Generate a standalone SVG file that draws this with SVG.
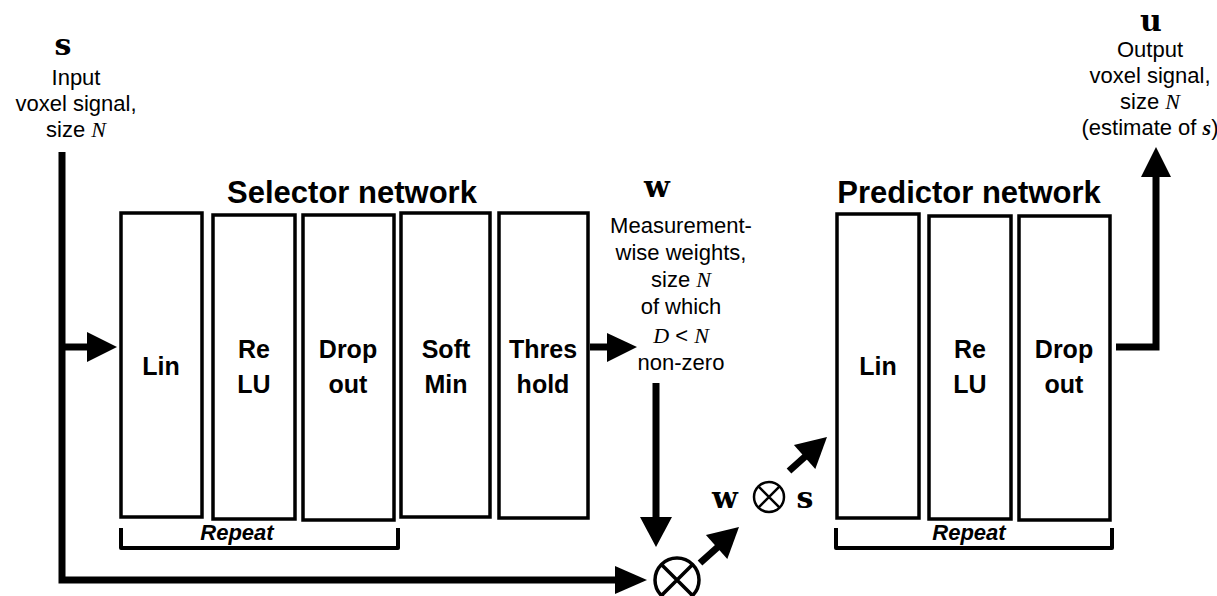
<svg xmlns="http://www.w3.org/2000/svg" width="1217" height="596" viewBox="0 0 1217 596">
<style>
.box{fill:#fff;stroke:#000;stroke-width:3.5}
.bt{font-family:"Liberation Sans",Arial,sans-serif;font-weight:bold;font-size:25px;text-anchor:middle;fill:#000}
.title{font-family:"Liberation Sans",Arial,sans-serif;font-weight:bold;font-size:31px;text-anchor:middle;fill:#000}
.lbl{font-family:"Liberation Sans",Arial,sans-serif;font-size:22px;text-anchor:middle;fill:#000}
.rep{font-family:"Liberation Sans",Arial,sans-serif;font-weight:bold;font-style:italic;font-size:22px;text-anchor:middle;fill:#000}
.var{font-family:"DejaVu Serif","Liberation Serif",serif;font-weight:bold;font-size:30px;text-anchor:middle;fill:#000}
.it{font-family:"Liberation Serif",serif;font-style:italic}
.bi{font-family:"Liberation Serif",serif;font-style:italic;font-weight:bold}
.line{fill:none;stroke:#000;stroke-width:7}
.thin{fill:none;stroke:#000;stroke-width:4;stroke-linejoin:round}
.head{fill:#000;stroke:none}
</style>

<g id="input-label">
<text class="var" x="63" y="55">s</text>
<text class="lbl" x="76" y="85">Input</text>
<text class="lbl" x="76" y="111">voxel signal,</text>
<text class="lbl" x="76" y="137">size <tspan class="it">N</tspan></text>
</g>

<g id="output-label">
<text class="var" x="1151" y="31">u</text>
<text class="lbl" x="1150" y="57">Output</text>
<text class="lbl" x="1150" y="83">voxel signal,</text>
<text class="lbl" x="1150" y="109">size <tspan class="it">N</tspan></text>
<text class="lbl" x="1150" y="135">(estimate of <tspan class="bi">s</tspan>)</text>
</g>

<g id="selector-title"><text class="title" x="352" y="203">Selector network</text></g>
<g id="predictor-title"><text class="title" x="969" y="203">Predictor network</text></g>

<g id="sel-lin"><rect class="box" x="121" y="213" width="81" height="304"/><text class="bt" x="161" y="375">Lin</text></g>
<g id="sel-relu"><rect class="box" x="213" y="215" width="82" height="304"/><text class="bt" x="254" y="358">Re</text><text class="bt" x="254" y="393">LU</text></g>
<g id="sel-dropout"><rect class="box" x="303" y="215" width="91" height="305"/><text class="bt" x="348" y="358">Drop</text><text class="bt" x="348" y="393">out</text></g>
<g id="sel-softmin"><rect class="box" x="401" y="213" width="89" height="304"/><text class="bt" x="446" y="358">Soft</text><text class="bt" x="446" y="393">Min</text></g>
<g id="sel-threshold"><rect class="box" x="499" y="213" width="89" height="305"/><text class="bt" x="543" y="358">Thres</text><text class="bt" x="543" y="393">hold</text></g>

<g id="sel-repeat">
<path class="thin" d="M121,528 V548 H398 V528"/>
<text class="rep" x="237" y="540">Repeat</text>
</g>

<g id="pred-lin"><rect class="box" x="837" y="214" width="82" height="304"/><text class="bt" x="878" y="375">Lin</text></g>
<g id="pred-relu"><rect class="box" x="929" y="216" width="82" height="303"/><text class="bt" x="970" y="358">Re</text><text class="bt" x="970" y="393">LU</text></g>
<g id="pred-dropout"><rect class="box" x="1019" y="216" width="91" height="304"/><text class="bt" x="1064" y="358">Drop</text><text class="bt" x="1064" y="393">out</text></g>

<g id="pred-repeat">
<path class="thin" d="M836,528 V548 H1112 V528"/>
<text class="rep" x="969" y="540">Repeat</text>
</g>

<g id="w-label">
<text class="var" x="657" y="197">w</text>
<text class="lbl" x="681" y="233">Measurement-</text>
<text class="lbl" x="681" y="260">wise weights,</text>
<text class="lbl" x="681" y="287">size <tspan class="it">N</tspan></text>
<text class="lbl" x="681" y="314">of which</text>
<text class="lbl" x="681" y="343"><tspan class="it">D</tspan> &lt; <tspan class="it">N</tspan></text>
<text class="lbl" x="681" y="370">non-zero</text>
</g>

<g id="product">
<circle cx="677" cy="580" r="22" fill="#fff" stroke="#000" stroke-width="3.5"/>
<path d="M661.4,564.4 L692.6,595.6 M692.6,564.4 L661.4,595.6" stroke="#000" stroke-width="3.5"/>
</g>

<g id="ws-label">
<text class="var" x="725" y="508">w</text>
<circle cx="769" cy="497" r="15" fill="none" stroke="#000" stroke-width="2.5"/>
<path d="M758.4,486.4 L779.6,507.6 M779.6,486.4 L758.4,507.6" stroke="#000" stroke-width="2.5"/>
<text class="var" x="805" y="508">s</text>
</g>

<g id="connectors">
<path class="line" d="M62,152 V580 H618"/>
<polygon class="head" points="647,580 615,566 615,594"/>
<path class="line" d="M62,347 H89"/>
<polygon class="head" points="117,347 87,332 87,362"/>
<path class="line" d="M590,347 H609"/>
<polygon class="head" points="637,347 607,333 607,362"/>
<path class="line" d="M656,383 V520"/>
<polygon class="head" points="656,547 640,517 672,517"/>
<path class="line" d="M700,563 L719,546"/>
<polygon class="head" points="739,527 727.3,558.9 705.9,535.1"/>
<path class="line" d="M789,471 L808,454"/>
<polygon class="head" points="827,437 815.3,468.9 793.9,445.1"/>
<path class="line" d="M1116,347 H1156 V175"/>
<polygon class="head" points="1156,147 1141,177 1171,177"/>
</g>
</svg>
